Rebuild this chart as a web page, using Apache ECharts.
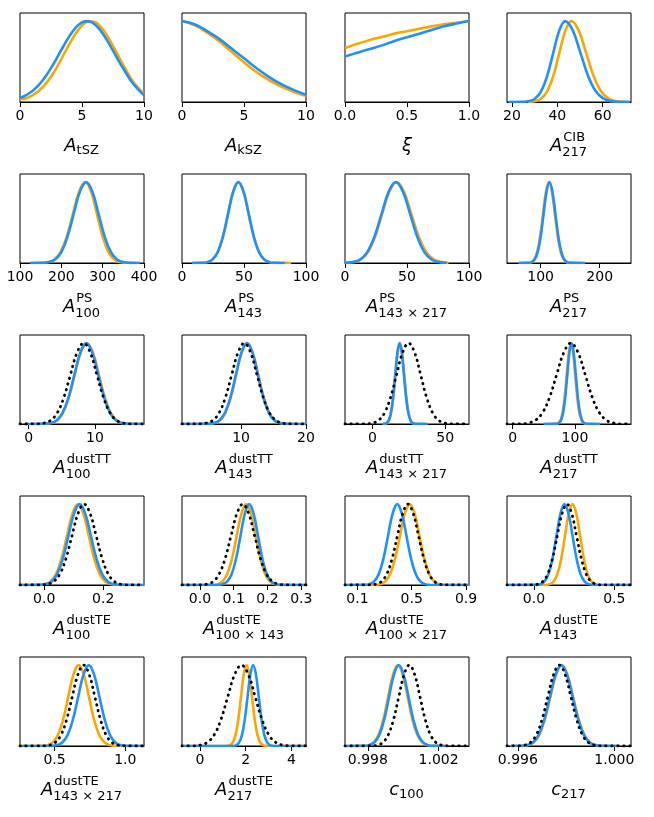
<!DOCTYPE html>
<html>
<head>
<meta charset="utf-8">
<script src="https://cdn.jsdelivr.net/npm/echarts@6/dist/echarts.min.js"></script>
<style>
html, body { margin: 0; padding: 0; background: #fff; }
#main { width: 654px; height: 817px; }
</style>
</head>
<body>
<div id="main"></div>
<script>
var levels = [0, 0.002, 0.011, 0.044, 0.135, 0.325, 0.607, 0.882, 1, 0.882, 0.607, 0.325, 0.135, 0.044, 0.011, 0.002, 0];

// row 1
var tszX = [0, 0.5, 1, 1.5, 2, 2.5, 3, 3.5, 4, 4.5, 5, 5.5, 6, 6.5, 7, 7.5, 8, 8.5, 9, 9.5, 10];
var tszOrange = [0.035, 0.047, 0.082, 0.135, 0.212, 0.313, 0.438, 0.578, 0.721, 0.849, 0.946, 0.995, 0.990, 0.930, 0.826, 0.693, 0.549, 0.411, 0.28, 0.18, 0.095];
var tszBlue = [0.049, 0.084, 0.135, 0.208, 0.303, 0.419, 0.552, 0.689, 0.817, 0.920, 0.984, 0.999, 0.964, 0.882, 0.768, 0.634, 0.497, 0.371, 0.25, 0.16, 0.085];
var kszX = [0, 1, 2, 3, 4, 5, 6, 7, 8, 9, 10];
var kszOrange = [1.0, 0.95, 0.86, 0.75, 0.62, 0.49, 0.37, 0.27, 0.19, 0.125, 0.075];
var kszBlue = [1.0, 0.96, 0.88, 0.78, 0.66, 0.54, 0.42, 0.31, 0.22, 0.15, 0.09];
var xiX = [0, 0.1, 0.2, 0.3, 0.4, 0.5, 0.6, 0.7, 0.8, 0.9, 1.0];
var xiOrange = [0.667, 0.72, 0.765, 0.805, 0.845, 0.875, 0.905, 0.935, 0.96, 0.98, 1.0];
var xiBlue = [0.5625, 0.61, 0.655, 0.70, 0.755, 0.80, 0.845, 0.89, 0.935, 0.97, 1.0];
var cibOrange = [27, 27.65, 30.3, 32.95, 35.6, 38.25, 40.9, 43.55, 46.2, 49.45, 52.7, 55.95, 59.2, 62.45, 65.7, 68.95, 72];
var cibBlue = [18.5, 24.95, 27.6, 30.25, 32.9, 35.55, 38.2, 40.85, 43.5, 46.85, 50.2, 53.55, 56.9, 60.25, 63.6, 66.95, 72];

// row 2
var ps100Orange = [125, 153, 168, 183, 198, 213, 228, 243, 258, 272, 286, 300, 314, 328, 342, 356, 385];
var ps100Blue = [125, 155, 170, 185, 200, 215, 230, 245, 260, 275, 290, 305, 320, 335, 350, 365, 390];
var ps143Orange = [8, 16.3, 20.45, 24.6, 28.75, 32.9, 37.05, 41.2, 45.35, 49.5, 53.65, 57.8, 61.95, 66.1, 70.25, 74.4, 88];
var ps143Blue = [8, 16.45, 20.6, 24.75, 28.9, 33.05, 37.2, 41.35, 45.5, 49.65, 53.8, 57.95, 62.1, 66.25, 70.4, 74.55, 83];
var ps143x217Orange = [0.5, 1.25, 7, 12.75, 18.5, 24.25, 30, 35.75, 41.5, 47.5, 53.5, 59.5, 65.5, 71.5, 77.5, 83.5, 84];
var ps143x217Blue = [0, 0.75, 6.5, 12.25, 18, 23.75, 29.5, 35.25, 41, 46.75, 52.5, 58.25, 64, 69.75, 75.5, 81.25, 82];
var ps217Orange = [63, 79, 84, 89, 94, 99, 104, 109, 114, 119, 124, 129, 134, 139, 144, 149, 170];
var ps217Blue = [63, 80, 85, 90, 95, 100, 105, 110, 115, 120, 125, 130, 135, 140, 145, 150, 175];

// row 3
var tt100Orange = [-0.5, 2.45, 3.35, 4.25, 5.15, 6.05, 6.95, 7.85, 8.75, 9.7, 10.6, 11.5, 12.4, 13.3, 14.2, 15.1, 17.4];
var tt100Blue = [-0.5, 2.4, 3.3, 4.2, 5.1, 6.0, 6.9, 7.8, 8.7, 9.6, 10.5, 11.4, 12.3, 13.2, 14.1, 15.0, 17.4];
var tt100Prior = [-1.3, 1.3, 2.3, 3.3, 4.3, 5.3, 6.3, 7.3, 8.3, 9.3, 10.3, 11.3, 12.3, 13.3, 14.3, 15.3, 17.4];
var tt143Orange = [1, 5.0, 5.85, 6.7, 7.55, 8.4, 9.25, 10.1, 10.95, 11.8, 12.65, 13.5, 14.35, 15.2, 16.05, 16.9, 20];
var tt143Blue = [1, 4.95, 5.8, 6.65, 7.5, 8.35, 9.2, 10.05, 10.9, 11.75, 12.6, 13.45, 14.3, 15.15, 16.0, 16.85, 20];
var tt143Prior = [0.9, 3.675, 4.65, 5.625, 6.6, 7.575, 8.55, 9.525, 10.5, 11.475, 12.45, 13.425, 14.4, 15.375, 16.35, 17.325, 20];
var tt143x217Orange = [7, 8.3, 9.8, 11.3, 12.8, 14.3, 15.8, 17.3, 18.8, 20.3, 21.8, 23.3, 24.8, 26.3, 27.8, 29.3, 37];
var tt143x217Blue = [7, 8.1, 9.6, 11.1, 12.6, 14.1, 15.6, 17.1, 18.6, 20.1, 21.6, 23.1, 24.6, 26.1, 27.6, 29.1, 38];
var tt143x217Prior = [-18.9, -4.25, -0.1, 4.05, 8.2, 12.35, 16.5, 20.65, 24.8, 28.95, 33.1, 37.25, 41.4, 45.55, 49.7, 53.85, 66.3];
var tt217Orange = [50, 69.7, 73.1, 76.5, 79.9, 83.3, 86.7, 90.1, 93.5, 96.9, 100.3, 103.7, 107.1, 110.5, 113.9, 117.3, 140];
var tt217Blue = [50, 70.7, 74.1, 77.5, 80.9, 84.3, 87.7, 91.1, 94.5, 97.9, 101.3, 104.7, 108.1, 111.5, 114.9, 118.3, 140];
var tt217Prior = [-9.1, 13, 24.5, 36, 47.5, 59, 70.5, 82, 93.5, 105, 116.5, 128, 139.5, 151, 162.5, 174, 189.9];

// row 4
var te100Orange = [-0.08, -0.0155, 0.003, 0.0215, 0.04, 0.0585, 0.077, 0.0955, 0.114, 0.1325, 0.151, 0.1695, 0.188, 0.2065, 0.225, 0.2435, 0.338];
var te100Blue = [-0.08, -0.013, 0.006, 0.025, 0.044, 0.063, 0.082, 0.101, 0.12, 0.139, 0.158, 0.177, 0.196, 0.215, 0.234, 0.253, 0.338];
var te100Prior = [-0.082, -0.0085, 0.012, 0.0325, 0.053, 0.0735, 0.094, 0.1145, 0.135, 0.1555, 0.176, 0.1965, 0.217, 0.2375, 0.258, 0.2785, 0.338];
var te100x143Orange = [-0.05, 0.039, 0.053, 0.067, 0.081, 0.095, 0.109, 0.123, 0.137, 0.151, 0.165, 0.179, 0.193, 0.207, 0.221, 0.235, 0.31];
var te100x143Blue = [-0.05, 0.055, 0.068, 0.081, 0.094, 0.107, 0.12, 0.133, 0.146, 0.159, 0.172, 0.185, 0.198, 0.211, 0.224, 0.237, 0.31];
var te100x143Prior = [-0.053, 0.0045, 0.022, 0.0395, 0.057, 0.0745, 0.092, 0.1095, 0.127, 0.1445, 0.162, 0.1795, 0.197, 0.2145, 0.232, 0.2495, 0.314];
var te100x217Orange = [0.01, 0.233, 0.269, 0.305, 0.341, 0.377, 0.413, 0.449, 0.485, 0.521, 0.557, 0.593, 0.629, 0.665, 0.701, 0.737, 0.92];
var te100x217Blue = [0.01, 0.155, 0.189, 0.223, 0.257, 0.291, 0.325, 0.359, 0.393, 0.427, 0.461, 0.495, 0.529, 0.563, 0.597, 0.631, 0.92];
var te100x217Prior = [0.008, 0.199, 0.238, 0.277, 0.316, 0.355, 0.394, 0.433, 0.472, 0.511, 0.55, 0.589, 0.628, 0.667, 0.706, 0.745, 0.922];
var te143Orange = [-0.16, 0.0755, 0.099, 0.1225, 0.146, 0.1695, 0.193, 0.2165, 0.24, 0.2635, 0.287, 0.3105, 0.334, 0.3575, 0.381, 0.4045, 0.6];
var te143Blue = [-0.16, 0.015, 0.04, 0.065, 0.09, 0.115, 0.14, 0.165, 0.19, 0.215, 0.24, 0.265, 0.29, 0.315, 0.34, 0.365, 0.6];
var te143Prior = [-0.168, -0.005, 0.025, 0.055, 0.085, 0.115, 0.145, 0.175, 0.205, 0.235, 0.265, 0.295, 0.325, 0.355, 0.385, 0.415, 0.604];

// row 5
var te143x217Orange = [0.26, 0.4145, 0.451, 0.4875, 0.524, 0.5605, 0.597, 0.6335, 0.67, 0.7065, 0.743, 0.7795, 0.816, 0.8525, 0.889, 0.9255, 1.13];
var te143x217Blue = [0.26, 0.4795, 0.517, 0.5545, 0.592, 0.6295, 0.667, 0.7045, 0.742, 0.7795, 0.817, 0.8545, 0.892, 0.9295, 0.967, 1.0045, 1.13];
var te143x217Prior = [0.256, 0.425, 0.465, 0.505, 0.545, 0.585, 0.625, 0.665, 0.705, 0.745, 0.785, 0.825, 0.865, 0.905, 0.945, 0.985, 1.132];
var te217Orange = [-0.75, 1.2, 1.32, 1.44, 1.56, 1.68, 1.8, 1.92, 2.04, 2.16, 2.28, 2.4, 2.52, 2.64, 2.76, 2.88, 4.6];
var te217Blue = [-0.75, 1.4725, 1.595, 1.7175, 1.84, 1.9625, 2.085, 2.2075, 2.33, 2.4525, 2.575, 2.6975, 2.82, 2.9425, 3.065, 3.1875, 4.6];
var te217Prior = [-0.78, -0.28, 0.02, 0.32, 0.62, 0.92, 1.22, 1.52, 1.82, 2.12, 2.42, 2.72, 3.02, 3.32, 3.62, 3.92, 4.64];
var c100Orange = [0.9968, 0.997775, 0.99805, 0.998325, 0.9986, 0.998875, 0.99915, 0.999425, 0.9997, 0.999975, 1.00025, 1.000525, 1.0008, 1.001075, 1.00135, 1.001625, 1.0025];
var c100Blue = [0.9968, 0.997825, 0.9981, 0.998375, 0.99865, 0.998925, 0.9992, 0.999475, 0.99975, 1.000025, 1.0003, 1.000575, 1.00085, 1.001125, 1.0014, 1.001675, 1.0025];
var c100Prior = [0.99671, 0.99825, 0.99855, 0.99885, 0.99915, 0.99945, 0.99975, 1.00005, 1.00035, 1.00065, 1.00095, 1.00125, 1.00155, 1.00185, 1.00215, 1.00245, 1.00372];
var c217Orange = [0.9957, 0.996175, 0.99641, 0.996645, 0.99688, 0.997115, 0.99735, 0.997585, 0.99782, 0.998055, 0.99829, 0.998525, 0.99876, 0.998995, 0.99923, 0.999465, 1.0002];
var c217Blue = [0.9957, 0.996155, 0.99639, 0.996625, 0.99686, 0.997095, 0.99733, 0.997565, 0.9978, 0.998035, 0.99827, 0.998505, 0.99874, 0.998975, 0.99921, 0.999445, 1.0002];
var c217Prior = [0.99555, 0.99604, 0.99628, 0.99652, 0.99676, 0.997, 0.99724, 0.99748, 0.99772, 0.99796, 0.9982, 0.99844, 0.99868, 0.99892, 0.99916, 0.9994, 1.00069];

function pairs(xs, ys) { return xs.map(function (x, i) { return [x, ys[i]]; }); }
function onLevels(xs) { return pairs(xs, levels); }

var panels = [
    {min: 0, max: 10, ticks: [0, 5, 10], dec: 0, sym: 'A', sub: 'tSZ', orange: pairs(tszX, tszOrange), blue: pairs(tszX, tszBlue)},
    {min: 0, max: 10, ticks: [0, 5, 10], dec: 0, sym: 'A', sub: 'kSZ', orange: pairs(kszX, kszOrange), blue: pairs(kszX, kszBlue)},
    {min: 0, max: 1, ticks: [0, 0.5, 1], dec: 1, sym: 'ξ', orange: pairs(xiX, xiOrange), blue: pairs(xiX, xiBlue)},
    {min: 17.8, max: 72.5, ticks: [20, 40, 60], dec: 0, sym: 'A', sup: 'CIB', sub: '217', orange: onLevels(cibOrange), blue: onLevels(cibBlue)},

    {min: 100, max: 400, ticks: [100, 200, 300, 400], dec: 0, sym: 'A', sup: 'PS', sub: '100', orange: onLevels(ps100Orange), blue: onLevels(ps100Blue)},
    {min: 0, max: 100, ticks: [0, 50, 100], dec: 0, sym: 'A', sup: 'PS', sub: '143', orange: onLevels(ps143Orange), blue: onLevels(ps143Blue)},
    {min: 0, max: 100, ticks: [0, 50, 100], dec: 0, sym: 'A', sup: 'PS', sub: '143 × 217', orange: onLevels(ps143x217Orange), blue: onLevels(ps143x217Blue)},
    {min: 43, max: 253, ticks: [100, 200], dec: 0, sym: 'A', sup: 'PS', sub: '217', orange: onLevels(ps217Orange), blue: onLevels(ps217Blue)},

    {min: -1.3, max: 17.4, ticks: [0, 10], dec: 0, sym: 'A', sup: 'dustTT', sub: '100', orange: onLevels(tt100Orange), blue: onLevels(tt100Blue), prior: onLevels(tt100Prior)},
    {min: 0.9, max: 20, ticks: [10, 20], dec: 0, sym: 'A', sup: 'dustTT', sub: '143', orange: onLevels(tt143Orange), blue: onLevels(tt143Blue), prior: onLevels(tt143Prior)},
    {min: -18.9, max: 66.3, ticks: [0, 50], dec: 0, sym: 'A', sup: 'dustTT', sub: '143 × 217', orange: onLevels(tt143x217Orange), blue: onLevels(tt143x217Blue), prior: onLevels(tt143x217Prior)},
    {min: -9.1, max: 189.9, ticks: [0, 100], dec: 0, sym: 'A', sup: 'dustTT', sub: '217', orange: onLevels(tt217Orange), blue: onLevels(tt217Blue), prior: onLevels(tt217Prior)},

    {min: -0.082, max: 0.338, ticks: [0, 0.2], dec: 1, sym: 'A', sup: 'dustTE', sub: '100', orange: onLevels(te100Orange), blue: onLevels(te100Blue), prior: onLevels(te100Prior)},
    {min: -0.053, max: 0.314, ticks: [0, 0.1, 0.2, 0.3], dec: 1, sym: 'A', sup: 'dustTE', sub: '100 × 143', orange: onLevels(te100x143Orange), blue: onLevels(te100x143Blue), prior: onLevels(te100x143Prior)},
    {min: 0.008, max: 0.922, ticks: [0.1, 0.5, 0.9], dec: 1, sym: 'A', sup: 'dustTE', sub: '100 × 217', orange: onLevels(te100x217Orange), blue: onLevels(te100x217Blue), prior: onLevels(te100x217Prior)},
    {min: -0.168, max: 0.604, ticks: [0, 0.5], dec: 1, sym: 'A', sup: 'dustTE', sub: '143', orange: onLevels(te143Orange), blue: onLevels(te143Blue), prior: onLevels(te143Prior)},

    {min: 0.256, max: 1.132, ticks: [0.5, 1.0], dec: 1, sym: 'A', sup: 'dustTE', sub: '143 × 217', orange: onLevels(te143x217Orange), blue: onLevels(te143x217Blue), prior: onLevels(te143x217Prior)},
    {min: -0.78, max: 4.64, ticks: [0, 2, 4], dec: 0, sym: 'A', sup: 'dustTE', sub: '217', orange: onLevels(te217Orange), blue: onLevels(te217Blue), prior: onLevels(te217Prior)},
    {min: 0.99671, max: 1.00372, ticks: [0.998, 1.002], dec: 3, sym: 'c', sub: '100', orange: onLevels(c100Orange), blue: onLevels(c100Blue), prior: onLevels(c100Prior)},
    {min: 0.99555, max: 1.00069, ticks: [0.996, 1.000], dec: 3, sym: 'c', sub: '217', orange: onLevels(c217Orange), blue: onLevels(c217Blue), prior: onLevels(c217Prior)}
];

var colLeft = [20, 182, 345, 507];
var rowTop = [13, 174, 335, 496, 657];
var boxW = 124, boxH = 89;

var measure = document.createElement('canvas').getContext('2d');
function textWidth(t, font) { measure.font = font; return measure.measureText(t).width; }

var grids = [], xAxes = [], yAxes = [], series = [], labels = [];
var mainSize = 18, scriptSize = 13;
var mainFont = 'italic ' + mainSize + 'px "DejaVu Sans"';
var scriptFont = scriptSize + 'px "DejaVu Sans"';

function textEl(x, y, t, size, italic) {
    return {
        type: 'text', x: x, y: y, silent: true,
        style: {
            text: t, fill: '#000', fontSize: size, fontFamily: 'DejaVu Sans',
            fontStyle: italic ? 'italic' : 'normal',
            align: 'left', verticalAlign: 'middle', textAlign: 'left', textVerticalAlign: 'middle'
        }
    };
}

panels.forEach(function (p, i) {
    var left = colLeft[i % 4], top = rowTop[Math.floor(i / 4)];
    grids.push({left: left, top: top, width: boxW, height: boxH, show: true, borderColor: '#000', borderWidth: 1});
    xAxes.push({
        type: 'value', gridIndex: i, min: p.min, max: p.max,
        axisLine: {show: true, onZero: false, lineStyle: {color: '#000', width: 1}},
        axisTick: {show: true, inside: false, length: 5, customValues: p.ticks, lineStyle: {color: '#000', width: 1}},
        axisLabel: {
            customValues: p.ticks, margin: 7, color: '#000', fontSize: 14, fontFamily: 'DejaVu Sans',
            formatter: (function (d) { return function (v) { return Number(v).toFixed(d); }; })(p.dec)
        },
        splitLine: {show: false}
    });
    yAxes.push({type: 'value', gridIndex: i, min: 0, max: 1.1, show: false});

    var common = {type: 'line', xAxisIndex: i, yAxisIndex: i, symbol: 'none', smooth: 0.4, silent: true};
    series.push(Object.assign({}, common, {data: p.orange, z: 2, lineStyle: {color: '#ffa500', width: 2.6}}));
    series.push(Object.assign({}, common, {data: p.blue, z: 3, lineStyle: {color: '#1e90ff', width: 2.6}}));
    if (p.prior) {
        series.push(Object.assign({}, common, {data: p.prior, z: 4, lineStyle: {color: '#000', width: 2.8, type: [0.5, 5.5], cap: 'round'}}));
    }

    // axis title: italic symbol with stacked superscript / subscript
    var bottom = top + boxH, cx = left + boxW / 2;
    var wm = textWidth(p.sym, mainFont);
    var ws = Math.max(p.sup ? textWidth(p.sup, scriptFont) : 0, p.sub ? textWidth(p.sub, scriptFont) : 0);
    var total = wm + (ws ? ws + 1 : 0);
    var x0 = cx - total / 2;
    labels.push(textEl(x0, bottom + 44.8, p.sym, mainSize, true));
    if (p.sup) labels.push(textEl(x0 + wm + 1, bottom + 35.5, p.sup, scriptSize, false));
    if (p.sub) labels.push(textEl(x0 + wm, p.sup ? bottom + 51 : bottom + 49, p.sub, scriptSize, false));
});

var chart = echarts.init(document.getElementById('main'));
chart.setOption({
    backgroundColor: '#fff',
    animation: false,
    grid: grids,
    xAxis: xAxes,
    yAxis: yAxes,
    series: series,
    graphic: labels
});
</script>
</body>
</html>
